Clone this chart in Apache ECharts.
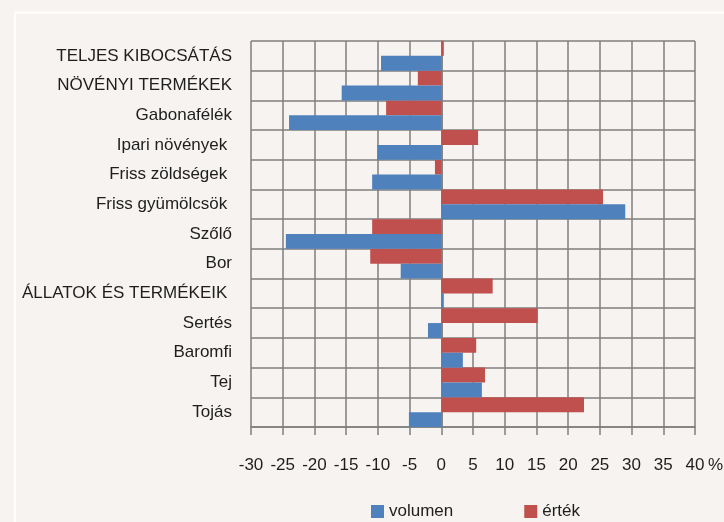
<!DOCTYPE html>
<html>
<head>
<meta charset="utf-8">
<script src="https://cdn.jsdelivr.net/npm/echarts@6/dist/echarts.min.js"></script>
<style>
  html, body { margin: 0; padding: 0; background: #f6f3f0; }
  #chart { width: 724px; height: 522px; }
</style>
</head>
<body>
<div id="chart"></div>
<script>
const categories = [
  "TELJES KIBOCSÁTÁS",
  "NÖVÉNYI TERMÉKEK",
  "Gabonafélék",
  "Ipari növények ",
  "Friss zöldségek ",
  "Friss gyümölcsök ",
  "Szőlő",
  "Bor",
  "ÁLLATOK ÉS TERMÉKEIK ",
  "Sertés",
  "Baromfi",
  "Tej",
  "Tojás",
];
const volumen = [-9.5, -15.7, -24.0, -10.1, -10.9, 29.0, -24.5, -6.4, 0.4, -2.1, 3.4, 6.4, -5.1];
const ertek = [0.4, -3.7, -8.7, 5.8, -1.0, 25.5, -10.9, -11.2, 8.1, 15.2, 5.5, 6.9, 22.5];

const font = "'Liberation Sans', Arial, sans-serif";
const gridColor = "#7f7f7f";
const textColor = "#1e1e1e";
const gridLine = { color: gridColor, width: 1.5 };

var myChart = echarts.init(document.getElementById("chart"));
myChart.setOption({
  backgroundColor: "#f6f3f0",
  animation: false,
  textStyle: { fontFamily: font },
  grid: {
    left: 251,
    right: 29,
    top: 41,
    bottom: 95,
    containLabel: false,
    outerBoundsMode: "none",
  },
  legend: {
    data: ["volumen", "érték"],
    left: 366,
    top: 498,
    icon: "rect",
    itemWidth: 13,
    itemHeight: 13,
    itemGap: 71,
    textStyle: { fontFamily: font, fontSize: 17, color: textColor },
  },
  xAxis: {
    type: "value",
    min: -30,
    max: 40,
    interval: 5,
    axisLine: { show: true, lineStyle: gridLine },
    axisTick: { show: true, length: 8, lineStyle: gridLine },
    axisLabel: { fontFamily: font, fontSize: 17, color: textColor, margin: 30 },
    splitLine: { show: true, lineStyle: gridLine },
  },
  yAxis: {
    type: "category",
    data: categories,
    inverse: true,
    axisLine: { show: true, lineStyle: gridLine },
    axisTick: { show: false },
    axisLabel: { fontFamily: font, fontSize: 17, color: textColor, margin: 19 },
    splitLine: { show: true, lineStyle: gridLine },
  },
  graphic: [
    { type: "line", shape: { x1: 15, y1: 12.5, x2: 724, y2: 12.5 }, style: { stroke: "#ffffff", lineWidth: 2 } },
    { type: "line", shape: { x1: 15, y1: 12.5, x2: 15, y2: 522 }, style: { stroke: "#ffffff", lineWidth: 2 } },
    {
      type: "text",
      left: 708,
      top: 457,
      style: { text: "%", font: "17px " + font, fill: textColor },
    },
  ],
  series: [
    {
      name: "érték",
      type: "bar",
      data: ertek,
      barGap: "0%",
      barCategoryGap: "0%",
      itemStyle: { color: "#c0504d" },
    },
    {
      name: "volumen",
      type: "bar",
      data: volumen,
      barGap: "0%",
      barCategoryGap: "0%",
      itemStyle: { color: "#4f81bd" },
    },
  ],
});
</script>
</body>
</html>
